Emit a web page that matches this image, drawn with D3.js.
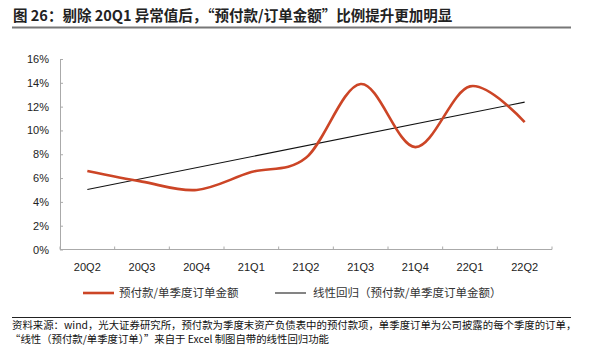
<!DOCTYPE html>
<html><head><meta charset="utf-8">
<script src="https://cdn.jsdelivr.net/npm/d3@7"></script>
<style>
html,body{margin:0;padding:0;background:#fff;}
svg{display:block;}
</style></head>
<body>
<svg id="chart" width="590" height="353"></svg>
<script>
const categories = ["20Q2","20Q3","20Q4","21Q1","21Q2","21Q3","21Q4","22Q1","22Q2"];
const ratioValues = [6.6, 5.7, 5.0, 6.5, 7.7, 13.9, 8.6, 13.7, 10.7];
const yTicks = [0,2,4,6,8,10,12,14,16];
const seriesNames = ["预付款/单季度订单金额", "线性回归（预付款/单季度订单金额）"];
const titleText = "图 26：剔除 20Q1 异常值后，“预付款/订单金额”比例提升更加明显";
const sourceLines = [
  "资料来源：wind，光大证券研究所，预付款为季度末资产负债表中的预付款项，单季度订单为公司披露的每个季度的订单，",
  "“线性（预付款/单季度订单）”来自于 Excel 制图自带的线性回归功能"
];

(function(){
// least-squares trend line derived from the series
const n = ratioValues.length;
const xm = d3.mean(ratioValues, (d,i)=>i);
const ym = d3.mean(ratioValues);
const slope = d3.sum(ratioValues,(d,i)=>(i-xm)*(d-ym)) / d3.sum(ratioValues,(d,i)=>(i-xm)*(i-xm));
const intercept = ym - slope*xm;
const trendValues = [intercept, intercept + slope*(n-1)];

const svg = d3.select("#chart");
const cjk = "'Noto Sans CJK SC','Noto Sans',sans-serif";
const latin = "'Liberation Sans',Arial,sans-serif";
const red = "#CC4526";

// title
svg.append("text").attr("x",13).attr("y",21).attr("font-family",cjk).attr("font-weight","bold")
  .attr("font-size",14.5).attr("fill","#222").text(titleText);
svg.append("line").attr("x1",12).attr("x2",571).attr("y1",27.5).attr("y2",27.5)
  .attr("stroke","#777").attr("stroke-width",2);

const mLeft=60, mRight=552, mTop=59, mBottom=249.5;
const x = d3.scaleBand().domain(categories).range([mLeft,mRight]);
const y = d3.scaleLinear().domain([0,16]).range([mBottom,mTop]);
const axisColor = "#aaa";

// y axis
const yAxis = svg.append("g").attr("transform",`translate(${mLeft},0)`)
  .call(d3.axisLeft(y).tickValues(yTicks).tickSizeInner(-3).tickSizeOuter(0).tickPadding(11).tickFormat(d=>d+"%"));
yAxis.select(".domain").attr("stroke",axisColor);
yAxis.selectAll(".tick line").attr("stroke",axisColor);
yAxis.selectAll("text").attr("font-family",latin).attr("font-size",11).attr("fill","#222");

// x axis
const xg = svg.append("g").attr("transform",`translate(0,${mBottom})`);
xg.append("line").attr("x1",mLeft).attr("x2",mRight).attr("stroke",axisColor);
const bounds = categories.map(c=>x(c)).concat([mRight]);
xg.selectAll("line.tk").data(bounds).join("line").attr("class","tk")
  .attr("x1",d=>d).attr("x2",d=>d).attr("y1",0).attr("y2",-3).attr("stroke",axisColor);
xg.selectAll("text").data(categories).join("text")
  .attr("x",d=>x(d)+x.bandwidth()/2).attr("y",21).attr("text-anchor","middle")
  .attr("font-family",latin).attr("font-size",11).attr("fill","#222").text(d=>d);

const cx = i => x(categories[i]) + x.bandwidth()/2;

// trend line
svg.append("path").datum(trendValues)
  .attr("d", d3.line().x((d,i)=>cx(i===0?0:n-1)).y(d=>y(d)))
  .attr("fill","none").attr("stroke","#111").attr("stroke-width",1.1);

// series
svg.append("path").datum(ratioValues)
  .attr("d", d3.line().x((d,i)=>cx(i)).y(d=>y(d)).curve(d3.curveCatmullRom.alpha(0)))
  .attr("fill","none").attr("stroke",red).attr("stroke-width",2.6);

// legend
const lg = svg.append("g");
lg.append("line").attr("x1",83).attr("x2",114).attr("y1",293).attr("y2",293).attr("stroke",red).attr("stroke-width",2.6);
lg.append("text").attr("x",119).attr("y",297).attr("font-family",cjk).attr("font-size",11.5).attr("fill","#333").text(seriesNames[0]);
lg.append("line").attr("x1",275).attr("x2",306).attr("y1",293).attr("y2",293).attr("stroke","#333").attr("stroke-width",1.2);
lg.append("text").attr("x",313).attr("y",297).attr("font-family",cjk).attr("font-size",11.5).attr("fill","#333").text(seriesNames[1]);

// footer
svg.append("line").attr("x1",12).attr("x2",571).attr("y1",317.5).attr("y2",317.5).attr("stroke","#222").attr("stroke-width",1);
svg.selectAll("text.src").data(sourceLines).join("text").attr("class","src")
  .attr("x",(d,i)=>i===0?12:10).attr("y",(d,i)=>329+i*14).attr("font-family",cjk).attr("font-size",10.4)
  .attr("fill","#111").text(d=>d);
})();
</script>
</body></html>
